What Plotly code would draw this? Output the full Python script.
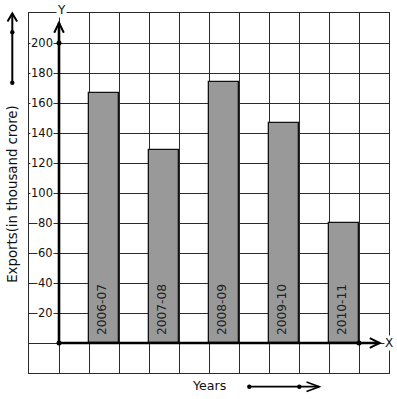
import plotly.graph_objects as go

# ---- data ----
years = ["2006-07", "2007-08", "2008-09", "2009-10", "2010-11"]
exports = [167, 129, 174, 147, 80]
bar_pos = [1.5, 3.5, 5.5, 7.5, 9.5]
y_ticks = [20, 40, 60, 80, 100, 120, 140, 160, 180, 200]

FONT = "DejaVu Sans"
W, H = 397, 399
ML, MR, MT, MB = 29, 8, 13, 26
PW, PH = W - ML - MR, H - MT - MB


def px(x):
    return (x - ML) / PW


def py(y):
    return (H - MB - y) / PH


fig = go.Figure()
fig.add_trace(go.Bar(
    x=bar_pos, y=exports, width=1.0,
    marker=dict(color="#999999", line=dict(color="#111111", width=1.3)),
    hoverinfo="skip", showlegend=False,
))

# axis dots
fig.add_trace(go.Scatter(
    x=[0, 0, 10], y=[0, 200, 0], mode="markers",
    marker=dict(color="black", size=5), showlegend=False, hoverinfo="skip",
    cliponaxis=False,
))

shapes = []
# thick axes
shapes.append(dict(type="line", xref="x", yref="y", x0=0, y0=0, x1=0, y1=213.5,
                   line=dict(color="black", width=2.6)))
shapes.append(dict(type="path", xref="x", yref="y",
                   path="M -0.16,206.8 L 0,213.5 L 0.16,206.8",
                   line=dict(color="black", width=2)))
shapes.append(dict(type="line", xref="x", yref="y", x0=0, y0=0, x1=10.69, y1=0,
                   line=dict(color="black", width=2.6)))
shapes.append(dict(type="path", xref="x", yref="y",
                   path="M 10.36,3.3 L 10.69,0 L 10.36,-3.3",
                   line=dict(color="black", width=2)))

# left decorative arrow
shapes.append(dict(type="line", xref="paper", yref="paper",
                   x0=px(12.3), y0=py(82.7), x1=px(12.3), y1=py(13.5),
                   line=dict(color="black", width=2)))
shapes.append(dict(type="path", xref="paper", yref="paper",
                   path=f"M {px(7.5)},{py(21.5)} L {px(12.3)},{py(13.5)} L {px(17.1)},{py(21.5)}",
                   line=dict(color="black", width=2)))
for yy in (32.3, 82.7):
    shapes.append(dict(type="circle", xref="paper", yref="paper",
                       x0=px(12.3 - 2.2), x1=px(12.3 + 2.2), y0=py(yy + 2.2), y1=py(yy - 2.2),
                       fillcolor="black", line=dict(color="black", width=0)))

# bottom decorative arrow
shapes.append(dict(type="line", xref="paper", yref="paper",
                   x0=px(249.3), y0=py(386.7), x1=px(319.3), y1=py(386.7),
                   line=dict(color="black", width=1.8)))
shapes.append(dict(type="path", xref="paper", yref="paper",
                   path=f"M {px(306.5)},{py(382)} L {px(319.3)},{py(386.7)} L {px(306.5)},{py(391.4)}",
                   line=dict(color="black", width=1.6)))
for xx in (249.3, 299.3):
    shapes.append(dict(type="circle", xref="paper", yref="paper",
                       x0=px(xx - 2.2), x1=px(xx + 2.2), y0=py(386.7 + 2.2), y1=py(386.7 - 2.2),
                       fillcolor="black", line=dict(color="black", width=0)))

annotations = []
for t in y_ticks:
    annotations.append(dict(x=-0.175, y=t, xref="x", yref="y", text=str(t),
                            showarrow=False, xanchor="right", yanchor="middle",
                            bgcolor="white", borderpad=0,
                            font=dict(family=FONT, size=11.5, color="#111")))
for xp, lab in zip(bar_pos, years):
    annotations.append(dict(x=xp - 0.045, y=22.5, xref="x", yref="y", text=lab,
                            showarrow=False, textangle=-90, xanchor="center", yanchor="middle",
                            font=dict(family=FONT, size=12.2, color="#222")))
annotations.append(dict(x=px(61), y=py(10), xref="paper", yref="paper", text="Y",
                        showarrow=False, xanchor="center", yanchor="middle",
                        bgcolor="white", borderpad=0,
                        font=dict(family=FONT, size=12, color="#111")))
annotations.append(dict(x=px(388.5), y=py(342.7), xref="paper", yref="paper", text="X",
                        showarrow=False, xanchor="center", yanchor="middle",
                        bgcolor="white", borderpad=0,
                        font=dict(family=FONT, size=12, color="#111")))
annotations.append(dict(x=px(12.3), y=py(193.5), xref="paper", yref="paper",
                        text="Exports(in thousand crore)", textangle=-90,
                        showarrow=False, xanchor="center", yanchor="middle",
                        font=dict(family=FONT, size=13.3, color="#111")))
annotations.append(dict(x=px(209.2), y=py(385), xref="paper", yref="paper",
                        text="Years", showarrow=False, xanchor="center", yanchor="middle",
                        font=dict(family=FONT, size=12.6, color="#111")))

fig.update_layout(
    width=W, height=H,
    margin=dict(l=ML, r=MR, t=MT, b=MB, pad=0),
    paper_bgcolor="white", plot_bgcolor="white",
    shapes=shapes, annotations=annotations,
    bargap=0,
    xaxis=dict(range=[-1, 11], dtick=1, tick0=0, showgrid=True, gridcolor="#2a2a2a",
               gridwidth=1, zeroline=False, showticklabels=False, ticks="",
               showline=True, mirror=True, linecolor="#2a2a2a", linewidth=1,
               fixedrange=True),
    yaxis=dict(range=[-20, 220], dtick=20, tick0=0, showgrid=True, gridcolor="#2a2a2a",
               gridwidth=1, zeroline=False, showticklabels=False, ticks="",
               showline=True, mirror=True, linecolor="#2a2a2a", linewidth=1,
               fixedrange=True),
)

fig.write_html("out.html", config={"displayModeBar": False},
               post_script="document.body.style.margin='0';document.body.style.padding='0';")
